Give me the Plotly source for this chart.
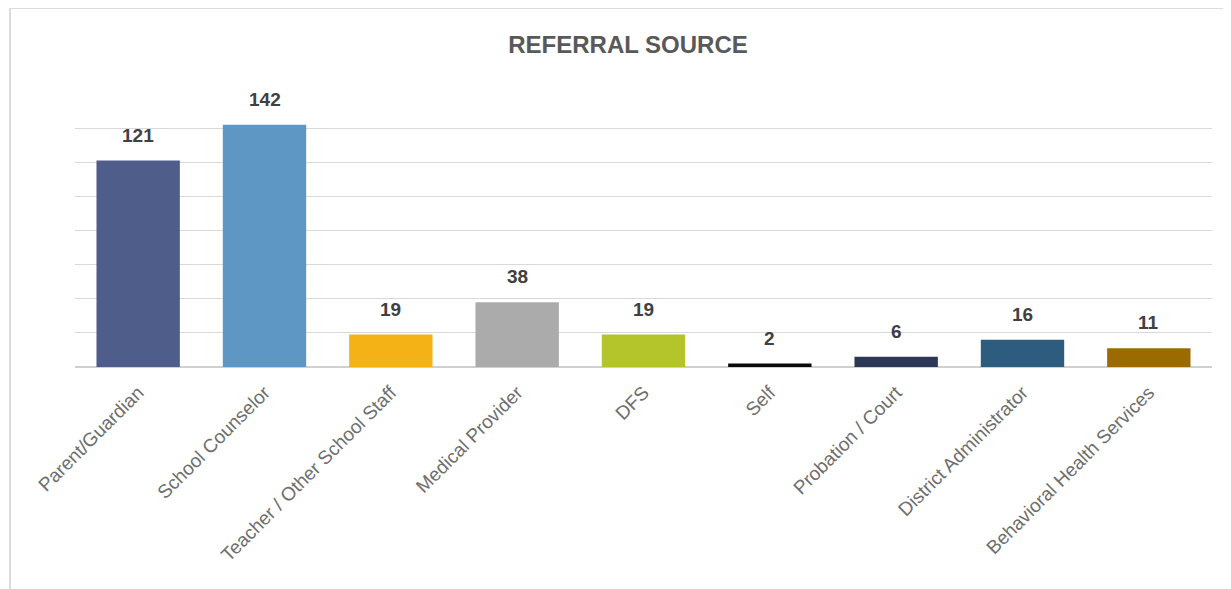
import plotly.graph_objects as go

categories = ["Parent/Guardian", "School Counselor", "Teacher / Other School Staff",
              "Medical Provider", "DFS", "Self", "Probation / Court",
              "District Administrator", "Behavioral Health Services"]
values = [121, 142, 19, 38, 19, 2, 6, 16, 11]
colors = ["#4f5d8a", "#5f97c4", "#f4b217", "#ababab", "#b3c52a",
          "#0a0a0a", "#2c3856", "#2e5c7e", "#9b6b02"]
title_text = "REFERRAL SOURCE"

W, H = 1231, 589
L, R, T, B = 67, 27, 86, 230
PW, PH = W - L - R, H - T - B

fig = go.Figure()
fig.add_trace(go.Bar(x=categories, y=values, marker=dict(color=colors, line=dict(width=0)),
                     width=0.66, hoverinfo="x+y"))

for c, v in zip(categories, values):
    fig.add_annotation(x=c, y=v, text=str(v), showarrow=False, yanchor="bottom",
                       yshift=13, font=dict(family="Liberation Sans, Arial",
                                            size=19, color="#404040", weight="bold"))

fig.update_layout(
    width=W, height=H,
    margin=dict(l=L, r=R, t=T, b=B),
    paper_bgcolor="white", plot_bgcolor="white",
    showlegend=False,
    title=dict(text=title_text, x=620/W, xanchor="center", y=1-37/H, yanchor="middle",
               font=dict(family="Liberation Sans, Arial", size=24, color="#595959", weight="bold")),
    xaxis=dict(tickangle=-45, showgrid=False, showline=False, ticks="outside", ticklen=6,
               tickcolor="rgba(0,0,0,0)",
               tickfont=dict(family="Liberation Sans, Arial", size=19, color="#6e6e6e")),
    yaxis=dict(range=[0, 160], dtick=20, showticklabels=False, showgrid=True,
               gridcolor="#d9d9d9", gridwidth=1, zeroline=True, zerolinecolor="#d0d0d0",
               zerolinewidth=1.5, showline=False, ticks=""),
    shapes=[
        dict(type="line", xref="paper", yref="paper", x0=(2-L)/PW, x1=(W-L)/PW + 0.05,
             y0=1 + T/PH, y1=1 + T/PH, line=dict(color="#dcdcdc", width=2), layer="below"),
        dict(type="line", xref="paper", yref="paper", x0=(2-L)/PW, x1=(2-L)/PW,
             y0=1 + T/PH, y1=-B/PH - 0.05, line=dict(color="#dcdcdc", width=2), layer="below"),
    ],
)

fig.write_html("out.html")
